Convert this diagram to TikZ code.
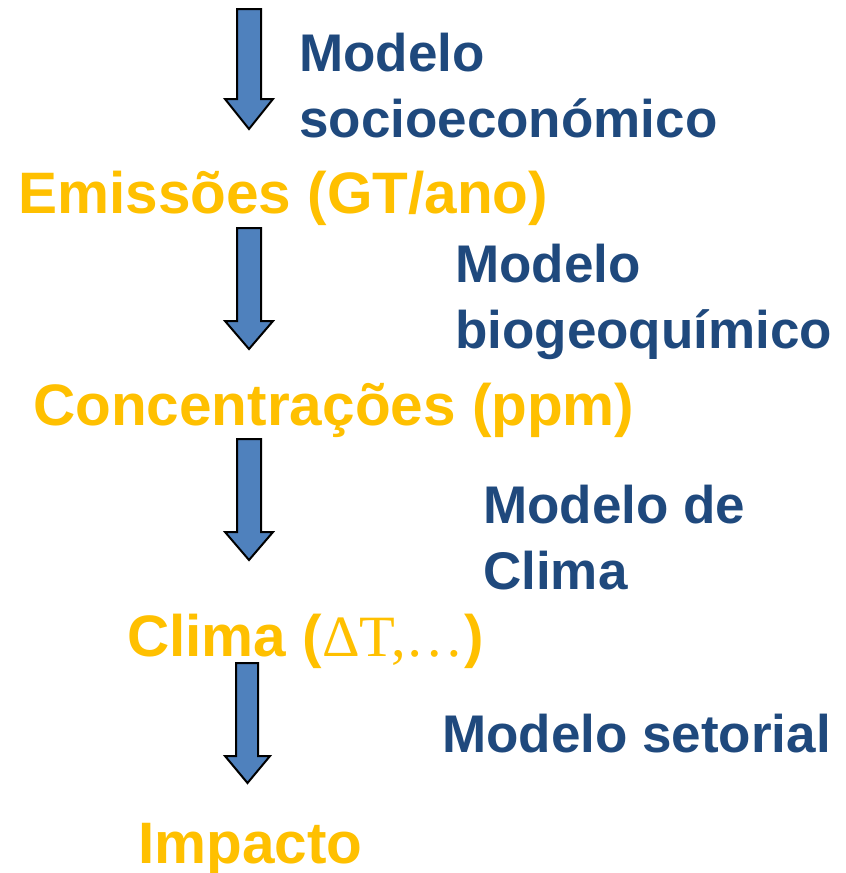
\documentclass[tikz,border=0pt]{standalone}
\usepackage{fontspec}
\setmainfont{Liberation Sans}
\newfontfamily\serifdelta{Liberation Serif}
\definecolor{modblue}{HTML}{1F497D}
\definecolor{varorange}{HTML}{FFC000}
\definecolor{arrowfill}{HTML}{4F81BD}
\tikzset{
  modeltext/.style={anchor=base west, inner sep=0pt, align=left, text=modblue,
    font=\fontsize{53}{66}\selectfont\bfseries},
  vartext/.style={anchor=base west, inner sep=0pt, text=varorange,
    font=\fontsize{58.5}{70}\selectfont\bfseries},
  blockarrow/.style={draw=black, fill=arrowfill, line width=2pt, line join=miter}
}
\newcommand\myblockarrow[7]{%
  % #1 shaft left, #2 shaft right, #3 top, #4 head base, #5 head left, #6 head right, #7 tip y
  \draw[blockarrow] (#1,#3) -- (#2,#3) -- (#2,#4) -- (#6,#4) -- ({(#5+#6)/2},#7)
    -- (#5,#4) -- (#1,#4) -- cycle;}
\begin{document}
\begin{tikzpicture}[x=1pt,y=-1pt]
\useasboundingbox (0,0) rectangle (846,873);
% arrows
\myblockarrow{237}{261}{9}{99}{225}{273}{129}
\myblockarrow{237}{261}{228}{321}{225}{273}{349}
\myblockarrow{237}{261}{439}{532}{225}{273}{560}
\myblockarrow{236}{258}{663}{756}{225}{270}{783}
% model labels (anchor = baseline of last line)
\node[modeltext] (m1) at (299,137) {Modelo\\socioeconómico};
\node[modeltext] (m2) at (455,348) {Modelo\\biogeoquímico};
\node[modeltext] (m3) at (483,589) {Modelo de\\Clima};
\node[modeltext] (m4) at (442,752) {Modelo setorial};
% variables
\node[vartext] (v1) at (18,213) {Emissões (GT/ano)};
\node[vartext] (v2) at (33,425) {Concentrações (ppm)};
\node[vartext] (v3) at (127,656) {Clima ({\serifdelta\mdseries ΔT,…})};
\node[vartext] (v4) at (138,863) {Impacto};
\end{tikzpicture}
\end{document}
